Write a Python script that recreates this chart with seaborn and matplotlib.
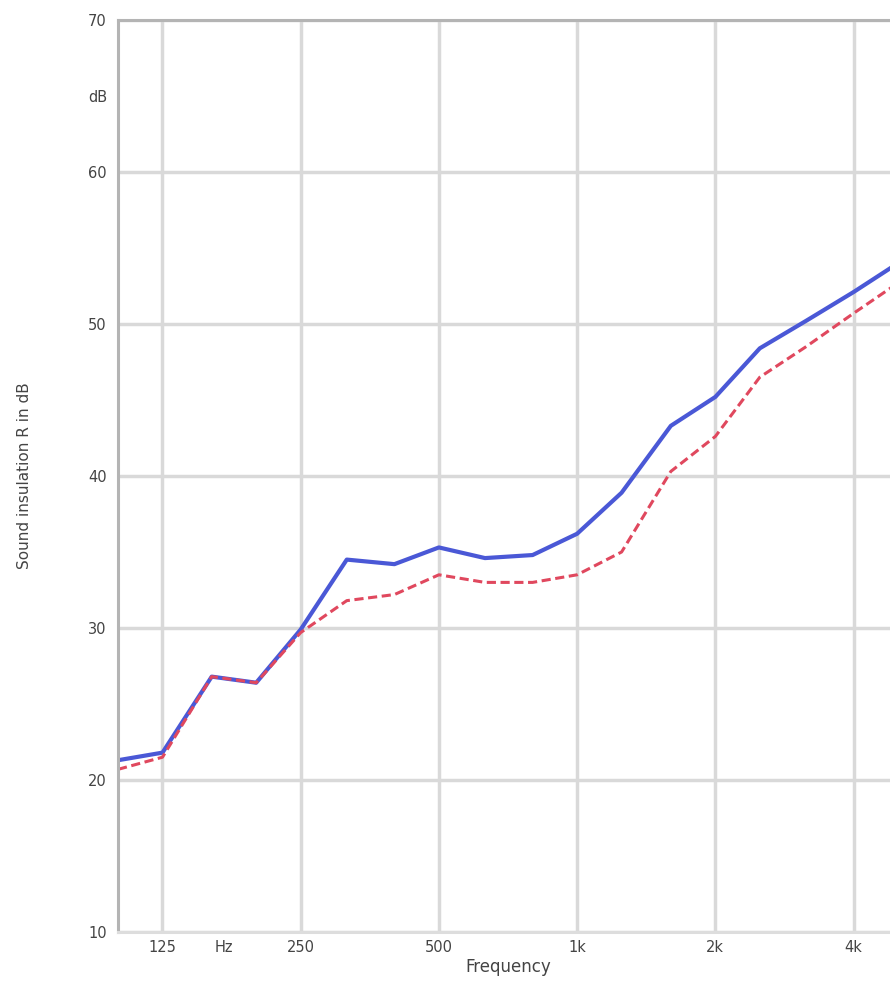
import numpy as np
import pandas as pd
import matplotlib
matplotlib.use("Agg")
import matplotlib.pyplot as plt
import seaborn as sns

# Third-octave band centre frequencies (Hz)
freqs = [100, 125, 160, 200, 250, 315, 400, 500, 630, 800,
         1000, 1250, 1600, 2000, 2500, 3150, 4000, 5000]

# Sound reduction R (dB) for the two constructions
r_blue = [21.3, 21.8, 26.8, 26.4, 29.9, 34.5, 34.2, 35.3, 34.6, 34.8,
          36.2, 38.9, 43.3, 45.2, 48.4, 50.2, 52.1, 54.0]
r_red = [20.7, 21.5, 26.8, 26.4, 29.7, 31.8, 32.2, 33.5, 33.0, 33.0,
         33.5, 35.0, 40.3, 42.6, 46.5, 48.5, 50.7, 52.7]

x_ticks = [125, 250, 500, 1000, 2000, 4000]
x_labels = ["125", "250", "500", "1k", "2k", "4k"]
y_ticks = [10, 20, 30, 40, 50, 60, 70]

df = pd.DataFrame({
    "freq": freqs * 2,
    "R": r_blue + r_red,
    "series": ["A"] * len(freqs) + ["B"] * len(freqs),
})

sns.set_style("white")
plt.rcParams["font.family"] = ["DejaVu Sans"]

fig = plt.figure(figsize=(8.9, 9.86), dpi=100)
ax = fig.add_axes([118 / 890, 1 - 932 / 986, (898 - 118) / 890, (932 - 20) / 986])

sns.lineplot(data=df[df.series == "A"], x="freq", y="R", ax=ax,
             color="#4a58d6", linewidth=3.0, legend=False)
sns.lineplot(data=df[df.series == "B"], x="freq", y="R", ax=ax,
             color="#e0485e", linewidth=2.2, linestyle=(0, (3, 1.5)), legend=False)

ax.set_xscale("log")
ax.set_xlim(100, 5000)
ax.set_ylim(10, 70)

ax.set_xticks(x_ticks)
ax.set_xticklabels(x_labels)
ax.xaxis.set_minor_locator(matplotlib.ticker.FixedLocator([170]))
ax.xaxis.set_minor_formatter(matplotlib.ticker.FixedFormatter(["Hz"]))
ax.set_yticks(y_ticks)
ax.set_yticklabels([str(v) for v in y_ticks])
ax.yaxis.set_minor_locator(matplotlib.ticker.FixedLocator([65]))
ax.yaxis.set_minor_formatter(matplotlib.ticker.FixedFormatter(["dB"]))

ax.grid(True, which="major", color="#d9d9d9", linewidth=2.5)
ax.set_axisbelow(True)

for side in ["left", "top", "bottom"]:
    ax.spines[side].set_visible(True)
    ax.spines[side].set_color("#b4b4b4")
    ax.spines[side].set_linewidth(2.2)
ax.spines["bottom"].set_color("#dddddd")
ax.spines["right"].set_visible(False)

ax.tick_params(axis="both", which="both", labelsize=10.5, labelcolor="#444444",
               color="#999999", width=1.5)
ax.tick_params(axis="x", which="major", length=3, pad=3)
ax.tick_params(axis="x", which="minor", length=0, pad=6)
ax.tick_params(axis="y", which="major", length=4, pad=4)
ax.tick_params(axis="y", which="minor", length=0, pad=8)

ax.set_xlabel("Frequency", fontsize=12, color="#444444", labelpad=2)
ax.set_ylabel("Sound insulation R in dB", fontsize=11, color="#444444")
ax.yaxis.set_label_coords(-0.11, 0.5)

fig.savefig("out.png", dpi=100)
